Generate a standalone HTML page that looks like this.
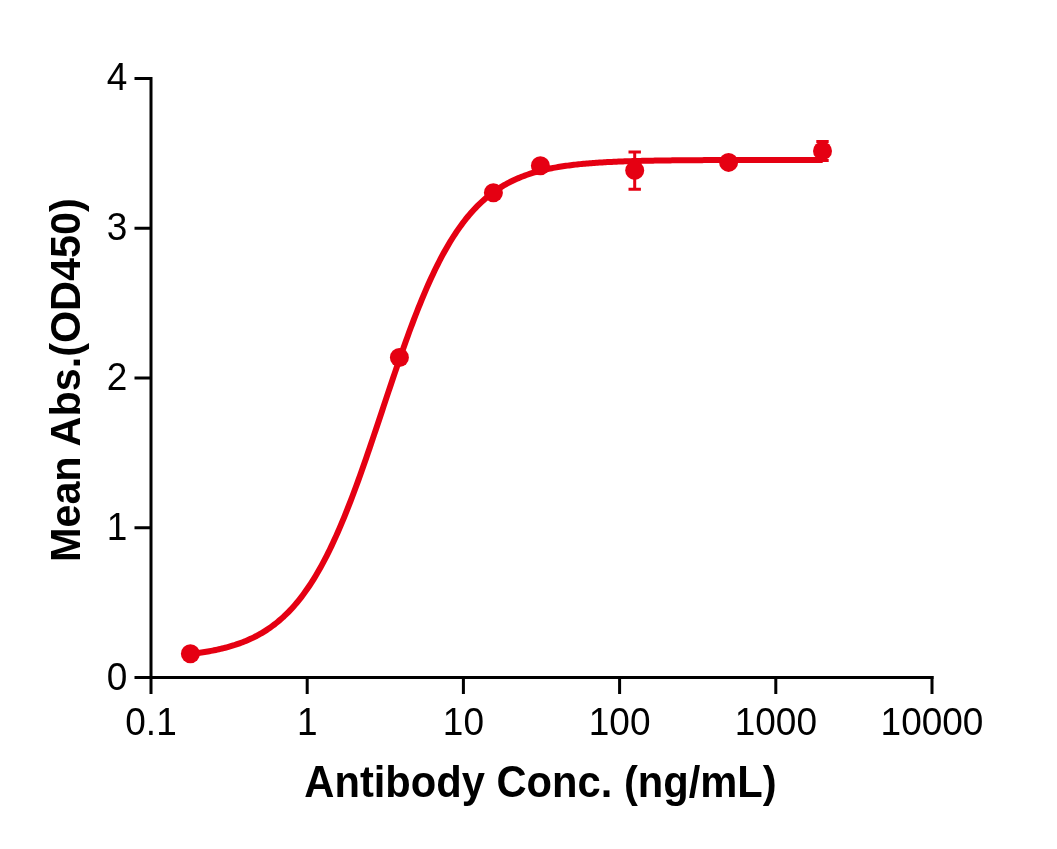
<!DOCTYPE html>
<html><head><meta charset="utf-8"><style>
html,body{margin:0;padding:0;background:#fff;}
svg{display:block;will-change:transform;}
text{font-family:"Liberation Sans",Arial,sans-serif;fill:#000;}
</style></head><body>
<svg width="1057" height="849" viewBox="0 0 1057 849">
<rect width="1057" height="849" fill="#fff"/>
<g stroke="#000" stroke-width="3" fill="none" stroke-linecap="butt">
<path d="M151,76.9V679M149.5,677.6H933.5"/>
<path d="M151,676V694M307.2,676V694M463.4,676V694M619.6,676V694M775.8,676V694M932,676V694M134.5,677.6H151M134.5,527.8H151M134.5,378.0H151M134.5,228.2H151M134.5,78.4H151"/>
</g>
<g font-size="38.5" text-anchor="middle">
<text transform="translate(151,735.4) scale(0.9610,1)">0.1</text>
<text transform="translate(307.2,735.4) scale(0.9610,1)">1</text>
<text transform="translate(463.4,735.4) scale(0.9610,1)">10</text>
<text transform="translate(619.6,735.4) scale(0.9610,1)">100</text>
<text transform="translate(775.8,735.4) scale(0.9610,1)">1000</text>
<text transform="translate(932,735.4) scale(0.9610,1)">10000</text>
</g>
<g font-size="38.5" text-anchor="end">
<text transform="translate(127.4,689.5) scale(0.9610,1)">0</text>
<text transform="translate(127.4,539.6999999999999) scale(0.9610,1)">1</text>
<text transform="translate(127.4,389.9) scale(0.9610,1)">2</text>
<text transform="translate(127.4,240.1) scale(0.9610,1)">3</text>
<text transform="translate(127.4,90.30000000000001) scale(0.9610,1)">4</text>
</g>
<text transform="translate(540.5,797.0) scale(0.9586,1)" font-size="43.5" font-weight="bold" text-anchor="middle">Antibody Conc. (ng/mL)</text>
<text transform="translate(80.2,380.2) rotate(-90) scale(0.9616,1)" font-size="43" font-weight="bold" text-anchor="middle">Mean Abs.(OD450)</text>
<path d="M190.40,653.94 L191.98,653.76 L193.57,653.57 L195.15,653.37 L196.74,653.16 L198.32,652.94 L199.91,652.72 L201.49,652.49 L203.08,652.25 L204.66,652.00 L206.25,651.74 L207.83,651.47 L209.42,651.19 L211.00,650.90 L212.59,650.60 L214.17,650.28 L215.76,649.96 L217.34,649.62 L218.92,649.28 L220.51,648.91 L222.09,648.54 L223.68,648.15 L225.26,647.75 L226.85,647.33 L228.43,646.89 L230.02,646.44 L231.60,645.97 L233.19,645.49 L234.77,644.99 L236.36,644.47 L237.94,643.93 L239.53,643.37 L241.11,642.79 L242.70,642.19 L244.28,641.56 L245.86,640.92 L247.45,640.25 L249.03,639.56 L250.62,638.84 L252.20,638.10 L253.79,637.33 L255.37,636.53 L256.96,635.71 L258.54,634.85 L260.13,633.97 L261.71,633.05 L263.30,632.10 L264.88,631.12 L266.47,630.11 L268.05,629.06 L269.64,627.98 L271.22,626.86 L272.81,625.70 L274.39,624.50 L275.97,623.26 L277.56,621.98 L279.14,620.66 L280.73,619.29 L282.31,617.88 L283.90,616.43 L285.48,614.92 L287.07,613.37 L288.65,611.77 L290.24,610.12 L291.82,608.42 L293.41,606.67 L294.99,604.86 L296.58,602.99 L298.16,601.07 L299.75,599.10 L301.33,597.06 L302.91,594.97 L304.50,592.81 L306.08,590.60 L307.67,588.32 L309.25,585.98 L310.84,583.57 L312.42,581.10 L314.01,578.57 L315.59,575.96 L317.18,573.29 L318.76,570.55 L320.35,567.75 L321.93,564.87 L323.52,561.93 L325.10,558.91 L326.69,555.83 L328.27,552.67 L329.85,549.45 L331.44,546.16 L333.02,542.79 L334.61,539.36 L336.19,535.86 L337.78,532.29 L339.36,528.65 L340.95,524.94 L342.53,521.17 L344.12,517.33 L345.70,513.43 L347.29,509.47 L348.87,505.45 L350.46,501.36 L352.04,497.22 L353.63,493.02 L355.21,488.77 L356.79,484.46 L358.38,480.11 L359.96,475.71 L361.55,471.26 L363.13,466.77 L364.72,462.24 L366.30,457.68 L367.89,453.08 L369.47,448.45 L371.06,443.79 L372.64,439.11 L374.23,434.41 L375.81,429.68 L377.40,424.95 L378.98,420.20 L380.57,415.44 L382.15,410.68 L383.73,405.92 L385.32,401.16 L386.90,396.41 L388.49,391.66 L390.07,386.93 L391.66,382.22 L393.24,377.52 L394.83,372.85 L396.41,368.20 L398.00,363.59 L399.58,359.00 L401.17,354.45 L402.75,349.94 L404.34,345.47 L405.92,341.04 L407.51,336.66 L409.09,332.33 L410.67,328.05 L412.26,323.82 L413.84,319.64 L415.43,315.53 L417.01,311.47 L418.60,307.47 L420.18,303.53 L421.77,299.66 L423.35,295.85 L424.94,292.11 L426.52,288.43 L428.11,284.82 L429.69,281.28 L431.28,277.81 L432.86,274.40 L434.45,271.07 L436.03,267.81 L437.62,264.61 L439.20,261.49 L440.78,258.44 L442.37,255.45 L443.95,252.54 L445.54,249.69 L447.12,246.91 L448.71,244.21 L450.29,241.56 L451.88,238.99 L453.46,236.48 L455.05,234.04 L456.63,231.66 L458.22,229.35 L459.80,227.10 L461.39,224.91 L462.97,222.78 L464.56,220.71 L466.14,218.70 L467.72,216.75 L469.31,214.85 L470.89,213.01 L472.48,211.23 L474.06,209.50 L475.65,207.82 L477.23,206.19 L478.82,204.61 L480.40,203.08 L481.99,201.60 L483.57,200.16 L485.16,198.77 L486.74,197.43 L488.33,196.12 L489.91,194.86 L491.50,193.64 L493.08,192.46 L494.66,191.31 L496.25,190.21 L497.83,189.14 L499.42,188.11 L501.00,187.11 L502.59,186.14 L504.17,185.21 L505.76,184.31 L507.34,183.44 L508.93,182.59 L510.51,181.78 L512.10,181.00 L513.68,180.24 L515.27,179.51 L516.85,178.80 L518.44,178.12 L520.02,177.46 L521.60,176.82 L523.19,176.21 L524.77,175.62 L526.36,175.05 L527.94,174.50 L529.53,173.97 L531.11,173.45 L532.70,172.96 L534.28,172.48 L535.87,172.02 L537.45,171.58 L539.04,171.15 L540.62,170.74 L542.21,170.34 L543.79,169.96 L545.38,169.59 L546.96,169.23 L548.54,168.89 L550.13,168.56 L551.71,168.24 L553.30,167.93 L554.88,167.64 L556.47,167.35 L558.05,167.07 L559.64,166.81 L561.22,166.55 L562.81,166.31 L564.39,166.07 L565.98,165.84 L567.56,165.62 L569.15,165.41 L570.73,165.21 L572.32,165.01 L573.90,164.82 L575.48,164.64 L577.07,164.46 L578.65,164.29 L580.24,164.13 L581.82,163.97 L583.41,163.82 L584.99,163.68 L586.58,163.53 L588.16,163.40 L589.75,163.27 L591.33,163.14 L592.92,163.02 L594.50,162.91 L596.09,162.79 L597.67,162.69 L599.26,162.58 L600.84,162.48 L602.43,162.39 L604.01,162.29 L605.59,162.20 L607.18,162.12 L608.76,162.04 L610.35,161.96 L611.93,161.88 L613.52,161.81 L615.10,161.73 L616.69,161.67 L618.27,161.60 L619.86,161.54 L621.44,161.48 L623.03,161.42 L624.61,161.36 L626.20,161.31 L627.78,161.25 L629.37,161.20 L630.95,161.15 L632.53,161.11 L634.12,161.06 L635.70,161.02 L637.29,160.98 L638.87,160.94 L640.46,160.90 L642.04,160.86 L643.63,160.82 L645.21,160.79 L646.80,160.76 L648.38,160.72 L649.97,160.69 L651.55,160.66 L653.14,160.64 L654.72,160.61 L656.31,160.58 L657.89,160.56 L659.47,160.53 L661.06,160.51 L662.64,160.49 L664.23,160.46 L665.81,160.44 L667.40,160.42 L668.98,160.40 L670.57,160.38 L672.15,160.37 L673.74,160.35 L675.32,160.33 L676.91,160.32 L678.49,160.30 L680.08,160.28 L681.66,160.27 L683.25,160.26 L684.83,160.24 L686.41,160.23 L688.00,160.22 L689.58,160.21 L691.17,160.19 L692.75,160.18 L694.34,160.17 L695.92,160.16 L697.51,160.15 L699.09,160.14 L700.68,160.13 L702.26,160.13 L703.85,160.12 L705.43,160.11 L707.02,160.10 L708.60,160.09 L710.19,160.09 L711.77,160.08 L713.35,160.07 L714.94,160.07 L716.52,160.06 L718.11,160.05 L719.69,160.05 L721.28,160.04 L722.86,160.04 L724.45,160.03 L726.03,160.03 L727.62,160.02 L729.20,160.02 L730.79,160.01 L732.37,160.01 L733.96,160.01 L735.54,160.00 L737.13,160.00 L738.71,159.99 L740.29,159.99 L741.88,159.99 L743.46,159.98 L745.05,159.98 L746.63,159.98 L748.22,159.97 L749.80,159.97 L751.39,159.97 L752.97,159.97 L754.56,159.96 L756.14,159.96 L757.73,159.96 L759.31,159.96 L760.90,159.95 L762.48,159.95 L764.07,159.95 L765.65,159.95 L767.24,159.95 L768.82,159.95 L770.40,159.94 L771.99,159.94 L773.57,159.94 L775.16,159.94 L776.74,159.94 L778.33,159.94 L779.91,159.93 L781.50,159.93 L783.08,159.93 L784.67,159.93 L786.25,159.93 L787.84,159.93 L789.42,159.93 L791.01,159.93 L792.59,159.93 L794.18,159.92 L795.76,159.92 L797.34,159.92 L798.93,159.92 L800.51,159.92 L802.10,159.92 L803.68,159.92 L805.27,159.92 L806.85,159.92 L808.44,159.92 L810.02,159.92 L811.61,159.92 L813.19,159.92 L814.78,159.91 L816.36,159.91 L817.95,159.91 L819.53,159.91 L821.12,159.91 L822.70,159.91" fill="none" stroke="#E50012" stroke-width="6" stroke-linejoin="round"/>
<g stroke="#E50012" stroke-width="3" fill="none">
<path d="M634.7,152.0V189.2M628.5,152.0H640.9000000000001M628.5,189.2H640.9000000000001"/>
<path d="M822.5,141.6V160.4M816.3,141.6H828.7M816.3,160.4H828.7"/>
</g>
<g fill="#E50012">
<circle cx="190.4" cy="653.7" r="9.5"/>
<circle cx="399.4" cy="357.5" r="9.5"/>
<circle cx="493.4" cy="192.8" r="9.5"/>
<circle cx="540.4" cy="165.7" r="9.5"/>
<circle cx="634.7" cy="170.4" r="9.5"/>
<circle cx="728.6" cy="162.4" r="9.5"/>
<circle cx="822.5" cy="150.9" r="9.5"/>
</g>
</svg>
</body></html>
